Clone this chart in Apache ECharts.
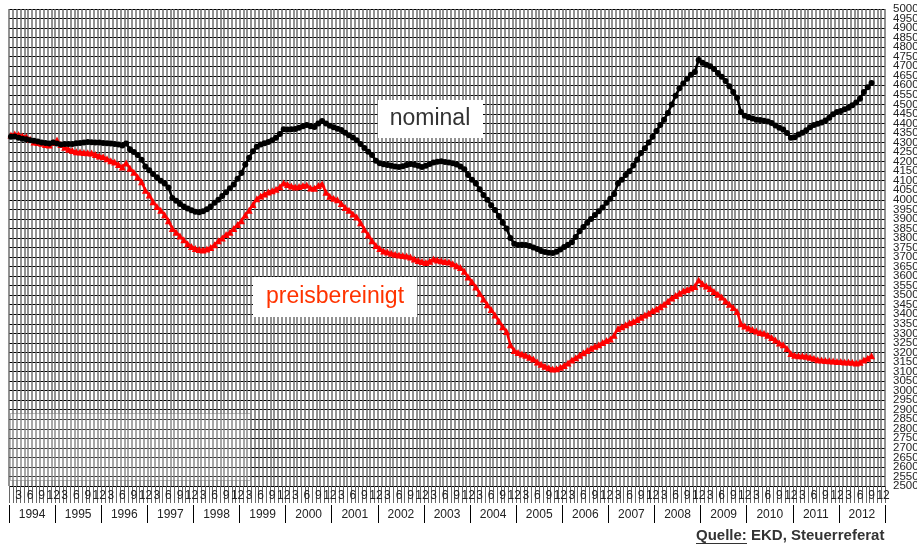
<!DOCTYPE html>
<html>
<head>
<meta charset="utf-8">
<script src="https://cdn.jsdelivr.net/npm/echarts@6/dist/echarts.min.js"></script>
<style>
  html, body { margin: 0; padding: 0; background: #fff; }
  #chart { width: 917px; height: 549px; }
</style>
</head>
<body>
<div id="chart"></div>
<script>
// Jahre der x-Achse, Monatswerte ab Januar 1994
const years = ["1994", "1995", "1996", "1997", "1998", "1999", "2000", "2001", "2002", "2003",
  "2004", "2005", "2006", "2007", "2008", "2009", "2010", "2011", "2012"];
// Monate, die unter der Achse beschriftet werden
const monthTicks = [3, 6, 9, 12];
const yTicks = { min: 2500, max: 5000, step: 50 };

// Nominal (Jan 1994 - Sep 2012)
const nominal = [
  4330, 4332, 4325, 4320, 4318, 4312, 4310, 4305, 4300, 4298, 4295, 4300, // 1994
  4295, 4290, 4292, 4293, 4292, 4296, 4298, 4300, 4303, 4302, 4300, 4300, // 1995
  4298, 4296, 4295, 4293, 4290, 4284, 4295, 4265, 4250, 4235, 4210, 4175, // 1996
  4155, 4135, 4118, 4100, 4085, 4065, 4010, 3995, 3978, 3965, 3955, 3945, // 1997
  3938, 3935, 3940, 3950, 3965, 3985, 4000, 4020, 4040, 4060, 4080, 4110, // 1998
  4140, 4185, 4220, 4255, 4278, 4290, 4297, 4303, 4312, 4325, 4345, 4370, // 1999
  4368, 4370, 4371, 4378, 4386, 4392, 4385, 4382, 4400, 4413, 4400, 4388, // 2000
  4380, 4373, 4366, 4352, 4338, 4326, 4312, 4292, 4272, 4252, 4235, 4205, // 2001
  4192, 4186, 4182, 4178, 4174, 4172, 4176, 4182, 4188, 4184, 4178, 4172, // 2002
  4178, 4188, 4196, 4200, 4202, 4198, 4196, 4192, 4185, 4175, 4160, 4130, // 2003
  4105, 4085, 4055, 4025, 4000, 3972, 3947, 3915, 3880, 3850, 3800, 3770, // 2004
  3763, 3765, 3763, 3758, 3750, 3742, 3732, 3726, 3722, 3721, 3728, 3740, // 2005
  3752, 3765, 3778, 3805, 3835, 3858, 3880, 3900, 3920, 3940, 3960, 3985, // 2006
  4005, 4030, 4085, 4105, 4130, 4150, 4180, 4210, 4245, 4270, 4300, 4330, // 2007
  4360, 4392, 4420, 4455, 4500, 4545, 4585, 4610, 4635, 4655, 4670, 4733, // 2008
  4718, 4708, 4700, 4685, 4665, 4645, 4622, 4595, 4565, 4535, 4460, 4440, // 2009
  4432, 4426, 4420, 4418, 4414, 4410, 4402, 4390, 4378, 4368, 4350, 4325, // 2010
  4328, 4342, 4352, 4365, 4380, 4392, 4398, 4405, 4415, 4430, 4448, 4460, // 2011
  4465, 4475, 4482, 4495, 4510, 4530, 4565, 4590, 4612                    // 2012
];

// Preisbereinigt (Jan 1994 - Sep 2012)
const preisbereinigt = [
  4340, 4345, 4342, 4334, 4330, 4318, 4303, 4300, 4296, 4290, 4287, 4300, // 1994
  4313, 4290, 4275, 4265, 4258, 4252, 4250, 4248, 4246, 4245, 4238, 4230, // 1995
  4225, 4215, 4205, 4198, 4185, 4172, 4193, 4165, 4145, 4120, 4095, 4050, // 1996
  4025, 3990, 3965, 3945, 3922, 3890, 3850, 3830, 3810, 3790, 3770, 3755, // 1997
  3745, 3740, 3737, 3742, 3750, 3765, 3785, 3800, 3818, 3830, 3850, 3870, // 1998
  3890, 3920, 3945, 3975, 4005, 4020, 4030, 4041, 4048, 4055, 4068, 4088, // 1999
  4080, 4072, 4067, 4070, 4075, 4078, 4062, 4060, 4075, 4083, 4040, 4018, // 2000
  4008, 4000, 3980, 3960, 3945, 3925, 3910, 3880, 3845, 3815, 3785, 3760, // 2001
  3745, 3732, 3726, 3720, 3715, 3711, 3708, 3705, 3700, 3690, 3682, 3676, // 2002
  3672, 3678, 3690, 3685, 3680, 3676, 3674, 3665, 3655, 3645, 3625, 3595, // 2003
  3570, 3543, 3510, 3480, 3450, 3425, 3396, 3365, 3335, 3310, 3240, 3210, // 2004
  3200, 3192, 3185, 3175, 3165, 3150, 3138, 3128, 3120, 3113, 3115, 3122, // 2005
  3132, 3145, 3160, 3172, 3185, 3198, 3210, 3222, 3232, 3240, 3252, 3262, // 2006
  3270, 3290, 3325, 3335, 3345, 3355, 3362, 3372, 3385, 3396, 3405, 3418, // 2007
  3428, 3440, 3452, 3468, 3485, 3498, 3510, 3522, 3530, 3538, 3545, 3580, // 2008
  3560, 3548, 3535, 3520, 3505, 3490, 3470, 3452, 3435, 3415, 3350, 3338, // 2009
  3328, 3320, 3312, 3305, 3300, 3290, 3278, 3265, 3250, 3240, 3220, 3195, // 2010
  3185, 3183, 3182, 3180, 3175, 3170, 3162, 3160, 3158, 3156, 3155, 3153, // 2011
  3152, 3150, 3150, 3148, 3145, 3148, 3160, 3170, 3182                    // 2012
];

// Monatskategorien aus den Jahren bauen
const months = [];
years.forEach((y) => {
  for (let m = 1; m <= 12; m++) months.push(y + "-" + m);
});

const narrow = "'Liberation Sans Narrow', 'Liberation Sans', Arial, sans-serif";
const sans = "'Liberation Sans', Arial, sans-serif";

const yLabelStyle = {
  margin: 8,
  fontFamily: narrow,
  fontSize: 11.5,
  color: "#222",
  hideOverlap: false,
};

const chart = echarts.init(document.getElementById("chart"), null, { renderer: "canvas" });

chart.setOption({
  animation: false,
  backgroundColor: "#fff",
  grid: { left: 9, right: 32, top: 9, bottom: 63, outerBoundsMode: "none" },
  xAxis: [
    {
      type: "category",
      data: months,
      boundaryGap: true,
      position: "bottom",
      axisLine: { show: false },
      axisTick: { show: true, interval: 0, length: 17, lineStyle: { color: "#666", width: 1 } },
      axisLabel: {
        interval: 0,
        margin: 4,
        fontFamily: narrow,
        fontSize: 12,
        color: "#222",
        formatter: (value) => {
          const m = +value.split("-")[1];
          return monthTicks.includes(m) ? String(m) : "";
        },
      },
      splitLine: { show: true, interval: 0, lineStyle: { color: "#6e6e6e", width: 1.5 } },
    },
    {
      type: "category",
      data: years,
      boundaryGap: true,
      position: "bottom",
      offset: 19,
      axisLine: { show: false },
      axisTick: { show: true, interval: 0, length: 18, lineStyle: { color: "#000", width: 1 } },
      axisLabel: { interval: 0, margin: 4, fontFamily: narrow, fontSize: 12, color: "#222" },
      splitLine: { show: false },
    },
  ],
  yAxis: [
    {
      // 50er-Raster und Beschriftung der Zwischenwerte (2550, 2650, ...)
      type: "value",
      position: "right",
      min: yTicks.min,
      max: yTicks.max,
      interval: yTicks.step,
      axisLine: { show: false },
      axisTick: { show: false },
      axisLabel: Object.assign({}, yLabelStyle, {
        formatter: (v) => (v % 100 === 0 ? "" : String(v)),
      }),
      splitLine: { show: true, lineStyle: { color: "#000", width: 1 } },
    },
    {
      // Beschriftung der Hunderter (2500, 2600, ..., 5000)
      type: "value",
      position: "right",
      min: yTicks.min,
      max: yTicks.max,
      interval: yTicks.step * 2,
      axisLine: { show: false },
      axisTick: { show: false },
      axisLabel: Object.assign({}, yLabelStyle, {
        showMinLabel: true,
        showMaxLabel: true,
        formatter: (v) => String(v),
      }),
      splitLine: { show: false },
    },
  ],
  series: [
    {
      name: "nominal",
      type: "line",
      xAxisIndex: 0,
      yAxisIndex: 0,
      data: nominal,
      symbol: "circle",
      symbolSize: 6,
      showAllSymbol: true,
      lineStyle: { color: "#000", width: 2.5 },
      itemStyle: { color: "#000" },
      z: 5,
    },
    {
      name: "preisbereinigt",
      type: "line",
      xAxisIndex: 0,
      yAxisIndex: 0,
      data: preisbereinigt,
      symbol: "triangle",
      symbolSize: 7,
      showAllSymbol: true,
      lineStyle: { color: "#ff0000", width: 2.5 },
      itemStyle: { color: "#ff0000" },
      z: 4,
    },
  ],
  graphic: [
    // leerer Legendenkasten unten links
    {
      type: "rect",
      z: 100,
      shape: { x: 10.5, y: 413.5, width: 240, height: 67 },
      style: { fill: "rgba(255,255,255,0.2)", stroke: "#777", lineWidth: 1, lineDash: [1, 1] },
    },
    {
      type: "rect",
      z: 100,
      shape: { x: 378, y: 100, width: 105, height: 38 },
      style: { fill: "#fff" },
    },
    {
      type: "text",
      z: 101,
      x: 430,
      y: 119,
      style: {
        text: "nominal",
        font: "23px " + sans,
        fill: "#333",
        align: "center",
        verticalAlign: "middle",
      },
    },
    {
      type: "rect",
      z: 100,
      shape: { x: 253, y: 277, width: 164, height: 40 },
      style: { fill: "#fff" },
    },
    {
      type: "text",
      z: 101,
      x: 335,
      y: 297,
      style: {
        text: "preisbereinigt",
        font: "23px " + sans,
        fill: "#ff3300",
        align: "center",
        verticalAlign: "middle",
      },
    },
    // Quelle
    {
      type: "text",
      z: 101,
      x: 696,
      y: 536,
      style: {
        text: "Quelle: EKD, Steuerreferat",
        font: "bold 15px " + sans,
        fill: "#333",
        verticalAlign: "middle",
      },
    },
    {
      type: "line",
      z: 101,
      shape: { x1: 696, y1: 543.5, x2: 747, y2: 543.5 },
      style: { stroke: "#333", lineWidth: 1.2 },
    },
  ],
});
</script>
</body>
</html>
